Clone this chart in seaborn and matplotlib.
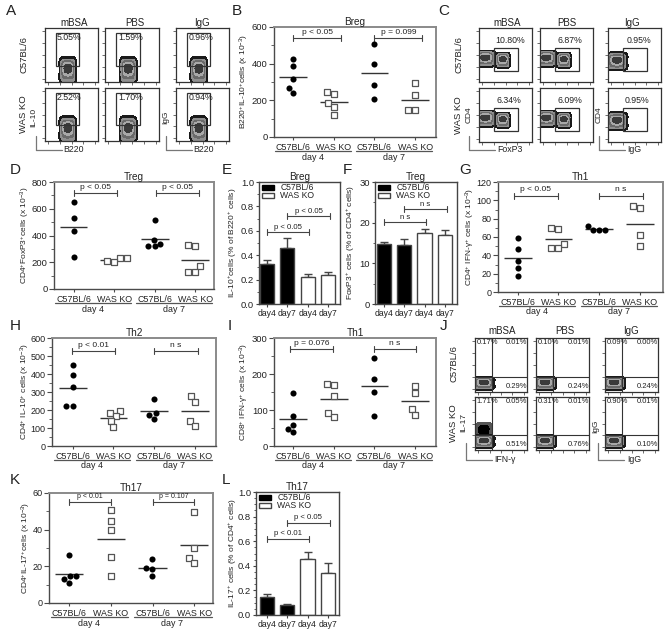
import warnings
import numpy as np
import pandas as pd
import matplotlib
matplotlib.use("Agg")
import matplotlib.pyplot as plt
from matplotlib.colors import ListedColormap
from matplotlib.lines import Line2D
from matplotlib.patches import Patch, Rectangle
from matplotlib.ticker import AutoMinorLocator
import seaborn as sns

warnings.filterwarnings("ignore")
sns.set_style("ticks")
plt.rcParams["font.family"] = ["Liberation Sans", "DejaVu Sans"]
plt.rcParams["mathtext.default"] = "regular"

W, H = 666, 632
fig = plt.figure(figsize=(W / 100, H / 100), dpi=100)

# ---------- data ----------
groups = ["C57BL/6 d4", "WAS KO d4", "C57BL/6 d7", "WAS KO d7"]
group_labels = ["C57BL/6", "WAS KO", "C57BL/6", "WAS KO"]
days = ["day 4", "day 7"]
bar_cats = ["C57BL/6 day4", "C57BL/6 day7", "WAS KO day4", "WAS KO day7"]
bar_labels = ["day4", "day7", "day4", "day7"]

b_vals = [[424, 390, 318, 265, 238], [247, 232, 183, 163, 119], [507, 400, 284, 207], [293, 229, 146, 146]]
d_vals = [[651, 534, 437, 241], [229, 199, 209, 231], [514, 363, 338, 318, 318], [330, 325, 169, 129, 129]]
g_vals = [[59, 47, 34, 26.5, 18], [70, 69, 52, 47.5, 48.5], [68, 67.5, 68, 72], [94, 92, 62, 50.5]]
h_vals = [[451, 392, 326, 225, 225], [184, 197, 164, 140, 105], [261, 184, 173, 151], [276, 243, 140, 110]]
i_vals = [[148, 82, 59, 48, 39], [172, 170, 139, 92, 81], [244, 186, 151, 83], [168, 148, 102, 85]]
k_vals = [[26, 14.7, 14.7, 13, 11], [51, 44.6, 40, 25, 15], [24, 19, 18.5, 14.7], [49.7, 30, 24.7, 22]]

e_means = [0.33, 0.46, 0.22, 0.24]
e_tops = [0.357, 0.54, 0.245, 0.26]
f_means = [14.7, 14.4, 17.5, 17.0]
f_tops = [15.2, 15.9, 18.4, 18.2]
l_means = [0.145, 0.08, 0.455, 0.34]
l_tops = [0.17, 0.09, 0.51, 0.42]

a_pct = [["5.05%", "1.59%", "0.96%"], ["2.52%", "1.70%", "0.94%"]]
c_pct = [["10.80%", "6.87%", "0.95%"], ["6.34%", "6.09%", "0.95%"]]
j_pct = [[("0.17%", "0.01%", "0.29%"), ("0.10%", "0.01%", "0.24%"), ("0.09%", "0.00%", "0.24%")],
         [("1.71%", "0.05%", "0.51%"), ("0.31%", "0.01%", "0.76%"), ("0.90%", "0.01%", "0.10%")]]
stim = ["mBSA", "PBS", "IgG"]

# event cloud shape shared by the flow plots, scaled per population
event_dx = [-0.5, 0.5, -0.5, 0.5, 0, 0, -0.3, 0.3, 0.0, -0.4, 0.4]
event_dy = [-0.5, -0.5, 0.5, 0.5, 0, 0.45, 0.2, 0.2, -0.45, -0.1, -0.1]

INK = "#222222"
AXC = "#4a4a4a"


def make_ax(L, R, T, B):
    return fig.add_axes([L / W, 1 - B / H, (R - L) / W, (B - T) / H])


def style_axes(ax, color=AXC, tick=3.5, minor=2.0):
    for s in ax.spines.values():
        s.set_visible(True)
        s.set_color(color)
        s.set_linewidth(1.0)
    ax.tick_params(axis="both", which="major", length=tick, width=0.8, color=color,
                   labelcolor=INK, pad=1.0)
    ax.tick_params(axis="y", which="minor", left=True, length=minor, width=0.6, color=color)


def bracket(ax, x0, x1, yf, label, size=6.0, off=4.3):
    tr = ax.get_xaxis_transform()
    cap = 3 / (ax.get_position().height * H)
    ax.plot([x0, x1], [yf, yf], transform=tr, color="#444444", lw=0.8, clip_on=False)
    for x in (x0, x1):
        ax.plot([x, x], [yf - cap, yf + cap], transform=tr, color="#444444", lw=0.8, clip_on=False)
    ax.annotate(label, ((x0 + x1) / 2, yf), xycoords=tr, xytext=(0, off),
                textcoords="offset points", ha="center", va="center", fontsize=size, color=INK)


def scatter_panel(box, c0, step, vals, ymax, ymajor, title, ylabel, ylab_px, brackets, bsize=6.0, tick_font=6.8):
    L, R, T, B = box
    ax = make_ax(L, R, T, B)
    rows = []
    for g, v in zip(groups, vals):
        rows += [(g, x) for x in v]
    df = pd.DataFrame(rows, columns=["group", "value"])
    sns.swarmplot(data=df[df.group.str.startswith("C57")], x="group", y="value", order=groups,
                  color="black", size=4.4, linewidth=0, ax=ax, warn_thresh=1, zorder=3)
    sns.swarmplot(data=df[df.group.str.startswith("WAS")], x="group", y="value", order=groups,
                  color="white", marker="s", edgecolor="#555555", linewidth=0.9, size=4.0,
                  ax=ax, warn_thresh=1, zorder=3)
    for i, v in enumerate(vals):
        ax.hlines(np.mean(v), i - 0.34, i + 0.34, color="#333333", lw=1.0, zorder=2)
    ax.set_xlim((L - c0) / step, (R - c0) / step)
    ax.set_ylim(0, ymax)
    ax.set_xticks(range(4))
    ax.set_xticklabels(group_labels, fontsize=6.4)
    ax.set_yticks(np.arange(0, ymax + 1e-9, ymajor))
    ax.yaxis.set_minor_locator(AutoMinorLocator(2))
    style_axes(ax)
    for side in ("top", "right"):
        ax.spines[side].set_color("#8a8a8a")
        ax.spines[side].set_linewidth(1.4)
    ax.tick_params(axis="x", length=2.5, pad=1.5)
    ax.tick_params(axis="y", labelsize=tick_font)
    ax.set_xlabel("")
    ax.set_ylabel(ylabel, fontsize=6.0, va="center", color=INK, labelpad=0)
    ax.yaxis.set_label_coords((ylab_px - L) / (R - L), 0.5)
    ax.set_title(title, fontsize=7.2, pad=1.5, color=INK)
    hgt = B - T
    tr = ax.get_xaxis_transform()
    for k, d in enumerate(days):
        a = 2 * k
        ax.plot([a - 0.45, a + 1.42], [-14 / hgt] * 2, transform=tr, color="#555555", lw=0.9, clip_on=False)
        ax.text(a + 0.48, -20 / hgt, d, transform=tr, ha="center", va="center", fontsize=6.4, color=INK)
    for x0, x1, yf, lab in brackets:
        bracket(ax, x0, x1, yf, lab, bsize)
    return ax


def bar_panel(box, c0, step, means, tops, ymax, ymajor, minor, title, ylabel, ylab_px, brackets):
    L, R, T, B = box
    ax = make_ax(L, R, T, B)
    hue = [c.split(" day")[0] for c in bar_cats]
    sns.barplot(x=bar_cats, y=means, hue=hue, order=bar_cats, dodge=False, width=0.69,
                palette={"C57BL/6": "black", "WAS KO": "white"}, edgecolor="#444444",
                linewidth=1.0, errorbar=None, legend=False, ax=ax, zorder=2)
    up = np.array(tops) - np.array(means)
    ax.errorbar(range(4), means, yerr=[np.zeros(4), up], fmt="none", ecolor="#444444",
                elinewidth=1.0, capsize=2.6, capthick=1.0, zorder=1)
    ax.set_xlim((L - c0) / step, (R - c0) / step)
    ax.set_ylim(0, ymax)
    ax.set_xticks(range(4))
    ax.set_xticklabels(bar_labels, fontsize=6.2)
    ax.set_yticks(np.arange(0, ymax + 1e-9, ymajor))
    ax.yaxis.set_minor_locator(AutoMinorLocator(minor))
    style_axes(ax, "#444444", tick=2.5, minor=1.5)
    ax.tick_params(axis="y", labelsize=6.8)
    ax.set_ylabel(ylabel, fontsize=6.0, va="center", color=INK, labelpad=0)
    ax.yaxis.set_label_coords((ylab_px - L) / (R - L), 0.5)
    ax.set_title(title, fontsize=7.2, pad=1.5, color=INK)
    ax.legend(handles=[Patch(facecolor="black", edgecolor="black", label="C57BL/6"),
                       Patch(facecolor="white", edgecolor="#444444", label="WAS KO")],
              loc="upper left", frameon=False, fontsize=6.2, handlelength=1.45, handleheight=0.5,
              labelspacing=-0.1, borderaxespad=0.05, borderpad=0.1, handletextpad=0.7,
              bbox_to_anchor=(0.02, 1.0), labelcolor=INK)
    for x0, x1, yf, lab in brackets:
        bracket(ax, x0, x1, yf, lab, 5.6, off=3.6)
    return ax


flow_cmap = ListedColormap(["#1a1a1a", "#5a5a5a", "#8f8f8f", "#6a6a6a", "#a8a8a8", "#3a3a3a"])
dark_cmap = ListedColormap(["#555555", "#222222", "#000000"])


def cloud(ax, pop, cmap=flow_cmap, levels=6):
    cx, cy, wx, wy = pop
    xs = cx + wx * np.array(event_dx)
    ys = cy + wy * np.array(event_dy)
    sns.kdeplot(x=xs, y=ys, fill=True, levels=levels, thresh=0.14, cmap=cmap, bw_adjust=1.0,
                gridsize=50, ax=ax, zorder=2)


def flow_ax(box):
    ax = make_ax(*box)
    ax.set_xlim(0, 1)
    ax.set_ylim(0, 1)
    ticks = [0.06, 0.28, 0.5, 0.72, 0.94]
    ax.set_xticks(ticks)
    ax.set_yticks(ticks)
    ax.set_xticklabels([])
    ax.set_yticklabels([])
    for s in ax.spines.values():
        s.set_visible(True)
        s.set_color("#333333")
        s.set_linewidth(0.9)
    ax.tick_params(length=2, width=0.6, color="#555555")
    return ax


def finish_flow(ax):
    ax.set_xlim(0, 1)
    ax.set_ylim(0, 1)
    ax.set_xlabel("")
    ax.set_ylabel("")


def gate(ax, x0, x1, y0, y1):
    ax.add_patch(Rectangle((x0, y0), x1 - x0, y1 - y0, fill=False, ec="#333333", lw=0.9, zorder=4))


def ftext(px, py, s, size=7.0, rot=0, **kw):
    fig.text(px / W, 1 - py / H, s, fontsize=size, rotation=rot, ha="center", va="center",
             color=INK, **kw)


def axis_arrow(x0, y0, x1, y1, ytop):
    for (xa, ya, xb, yb) in [(x0, y0, x1, y1), (x0, y0, x0, ytop)]:
        fig.add_artist(Line2D([xa / W, xb / W], [1 - ya / H, 1 - yb / H], color="#777777", lw=0.9))


# ---------- A ----------
a_cols = [(45, 98), (105, 159), (176, 229)]
a_rows = [(28, 82), (88, 141)]
for r, (t, b) in enumerate(a_rows):
    for c, (l, rr) in enumerate(a_cols):
        ax = flow_ax((l, rr, t, b))
        cloud(ax, (0.43, 0.21, 0.21, 0.33))
        gate(ax, 0.21, 0.65, 0.30, 0.91)
        ax.text([0.46, 0.475, 0.47][c], 0.82, a_pct[r][c], fontsize=6.3, ha="center", va="center",
                color=INK, zorder=5)
        finish_flow(ax)
for px, s in zip([74, 135, 202], stim):
    ftext(px, 23, s)
ftext(24, 55, "C57BL/6", 6.8, 90)
ftext(24, 114, "WAS KO", 6.8, 90)
ftext(34, 117, "IL-10", 6.0, 90)
ftext(166, 117, "IgG", 6.0, 90)
ftext(73, 150, "B220", 6.3)
ftext(203, 150, "B220", 6.3)
axis_arrow(36, 150, 62, 150, 136)
axis_arrow(166, 150, 192, 150, 136)

# ---------- C ----------
c_cols = [(479, 532), (540, 593), (608, 661)]
c_rows = [(28, 82), (88, 142)]
c_tx = [[0.59, 0.56, 0.575], [0.56, 0.56, 0.54]]
for r, (t, b) in enumerate(c_rows):
    for c, (l, rr) in enumerate(c_cols):
        ax = flow_ax((l, rr, t, b))
        if c < 2:
            cloud(ax, (0.12, 0.43, 0.25, 0.20))
            cloud(ax, (0.45, 0.40, 0.18, 0.19))
        else:
            cloud(ax, (0.17, 0.38, 0.26, 0.22))
        gate(ax, 0.29, 0.74, 0.21, 0.625)
        ax.text(c_tx[r][c], 0.76, c_pct[r][c], fontsize=6.3, ha="center", va="center", color=INK, zorder=5)
        finish_flow(ax)
for px, s in zip([507, 567, 632], stim):
    ftext(px, 23, s)
ftext(459, 55, "C57BL/6", 6.8, 90)
ftext(459, 115, "WAS KO", 6.8, 90)
ftext(469, 115, "CD4", 6.0, 90)
ftext(599, 115, "CD4", 6.0, 90)
ftext(510, 150, "FoxP3", 6.3)
ftext(634, 150, "IgG", 6.3)
axis_arrow(469, 150, 495, 150, 136)
axis_arrow(599, 150, 625, 150, 136)

# ---------- J ----------
j_cols = [(475, 527), (536, 589), (605, 658)]
j_rows = [(338, 392), (397, 450)]
for r, (t, b) in enumerate(j_rows):
    for c, (l, rr) in enumerate(j_cols):
        ax = flow_ax((l, rr, t, b))
        if r == 1 and c == 0:
            cloud(ax, (0.17, 0.36, 0.20, 0.20), dark_cmap, 3)
        cloud(ax, (0.17, 0.16, 0.27, 0.16))
        ax.axvline(0.32, color="#333333", lw=0.8, zorder=4)
        ax.axhline(0.285, color="#333333", lw=0.8, zorder=4)
        ul, ur, lr = j_pct[r][c]
        for xx, yy, s in [(0.24, 0.91, ul), (0.80, 0.91, ur), (0.80, 0.10, lr)]:
            ax.text(xx, yy, s, fontsize=5.5, ha="center", va="center", color=INK, zorder=5)
        finish_flow(ax)
for px, s in zip([502, 565, 631], stim):
    ftext(px, 331, s)
ftext(454, 364, "C57BL/6", 6.8, 90)
ftext(454, 423, "WAS KO", 6.8, 90)
ftext(464, 422, "IL-17", 6.0, 90)
ftext(596, 426, "IgG", 6.0, 90)
ftext(505, 460, "IFN-γ", 6.3)
ftext(634, 460, "IgG", 6.3)
axis_arrow(466, 460, 492, 460, 443)
axis_arrow(598, 460, 624, 460, 443)

# ---------- scatter panels ----------
scatter_panel((274, 436, 27, 137), 293, 40.7, b_vals, 600, 200, "Breg",
              "B220$^{+}$IL-10$^{+}$cells (x 10$^{-3}$)", 244,
              [(0, 1.18, 0.90, "p < 0.05"), (2, 3.18, 0.90, "p = 0.099")])
scatter_panel((54, 214, 182, 289), 73.5, 40.6, d_vals, 800, 200, "Treg",
              "CD4$^{+}$FoxP3$^{+}$cells (x 10$^{-3}$)", 25,
              [(0.02, 1.08, 0.894, "p < 0.05"), (2.03, 3.1, 0.894, "p < 0.05")])
scatter_panel((498, 663, 182, 292), 517.7, 40.7, g_vals, 120, 20, "Th1",
              "CD4$^{+}$ IFN-γ$^{+}$ cells (x 10$^{-3}$)", 470,
              [(-0.09, 0.98, 0.873, "p < 0.05"), (2.0, 3.07, 0.873, "n s")], tick_font=6.5)
scatter_panel((52, 216, 338, 446), 72.7, 40.7, h_vals, 600, 100, "Th2",
              "CD4$^{+}$ IL-10$^{+}$ cells (x 10$^{-3}$)", 25,
              [(-0.02, 1.05, 0.877, "p < 0.01"), (2.0, 3.08, 0.877, "n s")], tick_font=6.5)
scatter_panel((274, 436, 338, 446), 293, 40.7, i_vals, 300, 100, "Th1",
              "CD8$^{+}$ IFN-γ$^{+}$ cells (x 10$^{-3}$)", 244,
              [(-0.07, 0.98, 0.895, "p = 0.076"), (1.98, 3.03, 0.895, "n s")])
scatter_panel((49, 213, 493, 603), 69.3, 41.6, k_vals, 60, 20, "Th17",
              "CD4$^{+}$IL-17$^{+}$cells (x 10$^{-3}$)", 26,
              [(0, 1, 0.915, "p < 0.01"), (2, 3, 0.915, "p = 0.107")], bsize=5.0, tick_font=6.5)

# ---------- bar panels ----------
bar_panel((259, 340, 182, 304), 267, 20.4, e_means, e_tops, 1.0, 0.2, 2, "Breg",
          "IL-10$^{+}$cells (% of B220$^{+}$ cells)", 233,
          [(0, 2.08, 0.59, "p < 0.05"), (1, 3.08, 0.72, "p < 0.05")])
bar_panel((375, 457, 182, 304), 383.7, 20.4, f_means, f_tops, 30, 10, 2, "Treg",
          "FoxP3$^{+}$ cells (% of CD4$^{+}$ cells)", 351,
          [(0, 2.08, 0.67, "n s"), (1, 3.08, 0.777, "n s")])
bar_panel((256, 339, 492, 615), 266.7, 20.4, l_means, l_tops, 1.0, 0.2, 4, "Th17",
          "IL-17$^{+}$ cells (% of CD4$^{+}$ cells)", 233,
          [(0, 2.08, 0.62, "p < 0.01"), (1, 3.08, 0.75, "p < 0.05")])

# ---------- panel letters ----------
letters = {"A": (11, 11), "B": (237, 11), "C": (444, 11), "D": (15, 170), "E": (227, 170),
           "F": (347, 170), "G": (465, 170), "H": (15, 326), "I": (230, 326), "J": (444, 326),
           "K": (15, 480), "L": (226, 480)}
for s, (x, y) in letters.items():
    ftext(x, y, s, 11)

fig.savefig("out.png", dpi=100, facecolor="white")
